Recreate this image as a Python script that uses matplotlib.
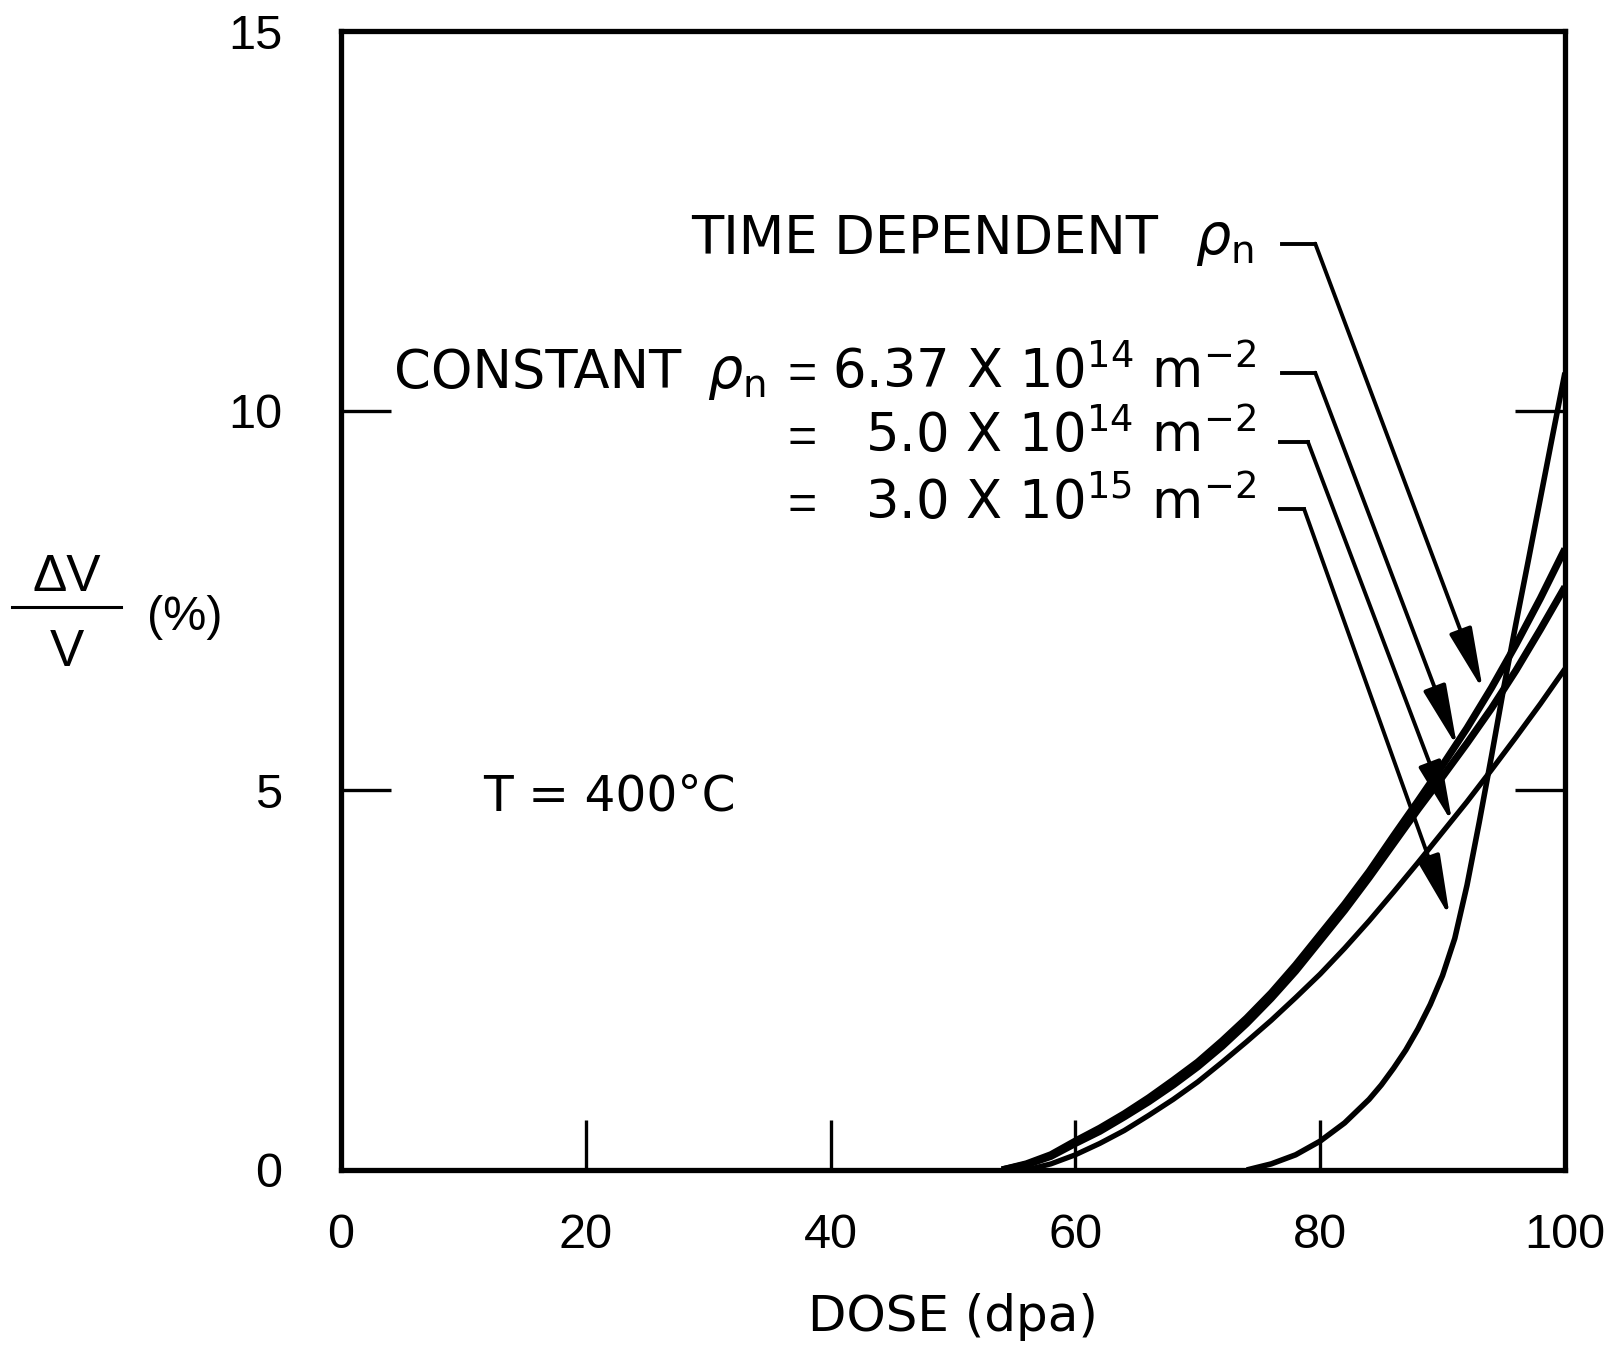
import matplotlib.pyplot as plt

plt.rcParams["font.family"] = ["Liberation Sans", "DejaVu Sans"]
plt.rcParams["mathtext.fontset"] = "dejavusans"

# swelling curves (dose in dpa, swelling in %)
dose_td = [54, 56, 58, 60, 62, 64, 66, 68, 70, 72, 74, 76, 78, 80, 82, 84, 86, 88, 90, 92, 94, 96, 98, 100]
swell_td = [0.0, 0.08, 0.2, 0.38, 0.55, 0.74, 0.95, 1.18, 1.42, 1.70, 2.0, 2.33, 2.7, 3.1, 3.5, 3.93,
            4.4, 4.86, 5.33, 5.82, 6.35, 6.92, 7.53, 8.18]

dose_637 = [54, 56, 58, 60, 62, 64, 66, 68, 70, 72, 74, 76, 78, 80, 82, 84, 86, 88, 90, 92, 94, 96, 98, 100]
swell_637 = [0.0, 0.07, 0.18, 0.35, 0.51, 0.7, 0.9, 1.12, 1.36, 1.63, 1.93, 2.26, 2.62, 3.02, 3.42, 3.85,
             4.3, 4.75, 5.18, 5.62, 6.08, 6.58, 7.12, 7.68]

dose_50 = [56, 58, 60, 62, 64, 66, 68, 70, 72, 74, 76, 78, 80, 82, 84, 86, 88, 90, 92, 94, 96, 98, 100]
swell_50 = [0.0, 0.08, 0.2, 0.35, 0.52, 0.72, 0.93, 1.16, 1.42, 1.69, 1.97, 2.27, 2.58, 2.92, 3.28, 3.66,
            4.05, 4.45, 4.85, 5.27, 5.7, 6.14, 6.6]

dose_30 = [74, 76, 78, 80, 82, 84, 85, 86, 87, 88, 89, 90, 91, 92, 93, 94, 95, 96, 97, 98, 99, 100]
swell_30 = [0.0, 0.08, 0.2, 0.38, 0.62, 0.93, 1.12, 1.34, 1.58, 1.86, 2.18, 2.56, 3.05, 3.75, 4.58, 5.45,
            6.35, 7.2, 8.02, 8.85, 9.68, 10.5]

x_ticks = [0, 20, 40, 60, 80, 100]
y_ticks = [0, 5, 10, 15]

# leader lines: (label end, corner, arrow tip) in data units
leaders = [
    ((76.9, 12.2), (79.6, 12.2), (93.3, 6.32)),
    ((76.9, 10.5), (79.6, 10.5), (91.2, 5.57)),
    ((76.7, 9.59), (79.0, 9.59), (90.8, 4.57)),
    ((76.7, 8.7), (78.7, 8.7), (90.6, 3.33)),
]

fig = plt.figure(figsize=(16.12, 13.49), dpi=100)
ax = fig.add_axes([0.2115, 0.1327, 0.7593, 0.8443])

ax.plot(dose_td, swell_td, color="black", lw=5.2, solid_capstyle="butt")
ax.plot(dose_637, swell_637, color="black", lw=5.2, solid_capstyle="butt")
ax.plot(dose_50, swell_50, color="black", lw=3.8, solid_capstyle="butt")
ax.plot(dose_30, swell_30, color="black", lw=4.0, solid_capstyle="butt")

ax.set_xlim(0, 100)
ax.set_ylim(0, 15)
ax.set_xticks(x_ticks)
ax.set_yticks(y_ticks)
ax.tick_params(direction="in", length=36, width=2.4, labelsize=35, color="black")
ax.tick_params(axis="x", pad=31)
ax.tick_params(axis="y", pad=42, right=True)
for s in ax.spines.values():
    s.set_linewidth(3.8)

# leaders with arrows
for start, corner, tip in leaders:
    ax.plot([start[0], corner[0]], [start[1], corner[1]], color="black", lw=2.8)
    ax.annotate("", xy=tip, xytext=corner,
                arrowprops=dict(arrowstyle="-|>,head_length=1.9,head_width=0.36",
                                color="black", lw=2.8, shrinkA=0, shrinkB=0,
                                mutation_scale=20))

fs = 38
tf = "DejaVu Sans"
rho = r"$\rho_{\rm n}$"
ax.text(28.6, 12.06, "TIME DEPENDENT", fontsize=fs, family=tf, va="baseline", ha="left")
ax.text(69.8, 12.06, rho, fontsize=40, family=tf, va="baseline", ha="left")
ax.text(4.3, 10.30, "CONSTANT", fontsize=fs, family=tf, va="baseline", ha="left")
ax.text(29.9, 10.30, rho, fontsize=40, family=tf, va="baseline", ha="left")
for yb in [10.30, 9.46, 8.57]:
    ax.text(36.5, yb, "=", fontsize=36, va="baseline", ha="left")
ax.text(74.8, 10.30, r"6.37 X 10$^{14}$ m$^{-2}$", fontsize=fs, family=tf, va="baseline", ha="right")
ax.text(74.8, 9.46, r"5.0 X 10$^{14}$ m$^{-2}$", fontsize=fs, family=tf, va="baseline", ha="right")
ax.text(74.8, 8.57, r"3.0 X 10$^{15}$ m$^{-2}$", fontsize=fs, family=tf, va="baseline", ha="right")
ax.text(11.6, 4.74, "T = 400°C", fontsize=35, family=tf, va="baseline", ha="left")

# axis labels
fig.text(953 / 1612, 1 - 1317 / 1349, "DOSE (dpa)", fontsize=36, family=tf, ha="center", va="center")
fig.text(67 / 1612, 1 - 578 / 1349, "ΔV", fontsize=37, ha="center", va="center")
fig.text(67 / 1612, 1 - 652 / 1349, "V", fontsize=37, ha="center", va="center")
fig.add_artist(plt.Line2D([12 / 1612, 121 / 1612], [1 - 607 / 1349, 1 - 607 / 1349],
                          color="black", lw=2.2))
fig.text(185 / 1612, 1 - 618 / 1349, "(%)", fontsize=35, ha="center", va="center")

fig.savefig("out.png", dpi=100)
